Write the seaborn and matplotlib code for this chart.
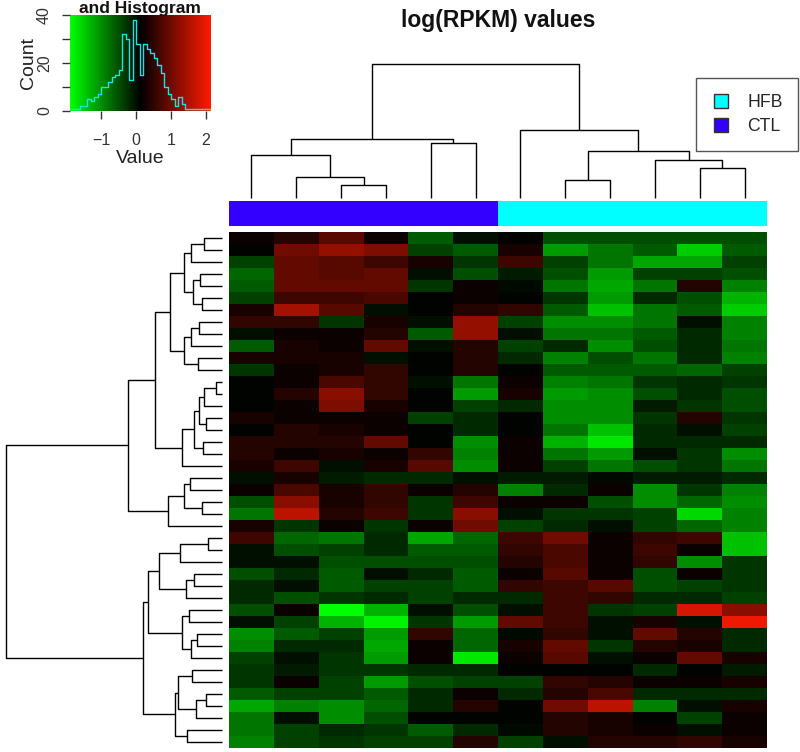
import numpy as np
import pandas as pd
import matplotlib
matplotlib.use("Agg")
import matplotlib.pyplot as plt
from matplotlib.colors import LinearSegmentedColormap, ListedColormap
from matplotlib.lines import Line2D
import seaborn as sns

# ---------------- data ----------------
samples = ["CTL1", "CTL2", "CTL3", "CTL4", "CTL5", "CTL6",
           "HFB1", "HFB2", "HFB3", "HFB4", "HFB5", "HFB6"]
groups = ["CTL", "CTL", "CTL", "CTL", "CTL", "CTL",
          "HFB", "HFB", "HFB", "HFB", "HFB", "HFB"]

ctl1 = [0.2, 0.1, -0.4, -0.7, -0.6, -0.4, 0.3, 0.5, 0.0, -0.6, 0.3, -0.3, 0.1, 0.1, 0.1, 0.3, 0.1, 0.4, 0.4, 0.3, 0.0,
        0.2, -0.5, -0.8, 0.3, 0.6, 0.0, 0.0, -0.5, -0.2, -0.2, -0.5, 0.0, -1.0, -0.9, -0.4, -0.3, -0.3, -0.6, -1.2, -0.8, -0.8, -0.9]
ctl2 = [0.4, 1.0, 0.9, 0.9, 0.9, 0.6, 1.4, 0.5, 0.2, 0.3, 0.3, 0.2, 0.2, 0.4, 0.2, 0.2, 0.4, 0.4, 0.2, 0.6, 0.3,
        0.7, 1.2, 1.6, -0.3, -0.7, -0.5, 0.0, -0.2, 0.0, -0.5, 0.2, -0.4, -0.6, -0.2, 0.0, -0.1, 0.2, -0.4, -0.9, 0.0, -0.4, -0.4]
ctl3 = [0.8, 1.3, 0.8, 0.8, 0.9, 0.6, 0.8, -0.3, 0.2, 0.2, 0.3, 0.3, 0.7, 1.2, 1.1, 0.2, 0.3, 0.4, 0.3, 0.0, -0.1,
        0.3, 0.3, 0.4, 0.2, -0.8, -0.4, -0.5, -0.6, -0.6, -0.3, -1.9, -1.3, -0.4, -0.2, -0.3, -0.3, -0.4, -0.4, -1.0, -1.0, -0.2, -0.3]
ctl4 = [0.2, 1.1, 0.6, 0.9, 0.9, 0.7, 0.0, 0.3, 0.4, 0.9, 0.0, 0.5, 0.5, 0.5, 0.3, 0.2, 0.2, 0.9, 0.2, 0.3, -0.2,
        0.5, 0.5, 0.6, -0.3, -0.2, -0.2, -0.5, 0.0, -0.4, -0.2, -1.3, -1.8, -1.1, -1.2, -1.1, -0.3, -1.1, -0.6, -0.7, -0.5, -0.3, -0.4]
ctl5 = [-0.6, -0.4, 0.3, 0.0, -0.3, 0.1, 0.1, 0.0, -0.6, 0.0, 0.1, 0.1, 0.0, 0.1, 0.1, -0.4, 0.1, 0.1, 0.5, 0.8, -0.2,
        0.2, -0.3, -0.3, 0.2, -1.2, -0.6, -0.5, -0.2, -0.4, -0.4, 0.0, -0.3, 0.5, 0.2, 0.2, -0.2, -0.5, -0.2, -0.2, 0.1, -0.6, -0.4]
ctl6 = [0.0, -0.6, -0.3, -0.5, 0.2, 0.2, 0.4, 1.3, 1.3, 0.4, 0.4, 0.4, -0.8, -1.1, -0.4, -0.2, -0.2, -1.0, -0.9, -1.0, 0.0,
        0.4, 0.6, 1.2, 1.0, -0.7, -0.6, -0.5, -0.6, -0.6, -0.2, -0.5, -1.1, -0.7, -0.7, -1.7, -0.2, -0.4, 0.2, 0.4, 0.1, -0.2, 0.4]
hfb1 = [0.1, 0.3, 0.6, -0.1, 0.05, 0.1, 0.5, -0.4, 0.0, -0.4, -0.2, 0.1, 0.2, 0.3, -0.2, 0.1, 0.1, 0.2, 0.2, 0.2, -0.1,
        -0.9, 0.2, 0.0, -0.4, 0.6, 0.5, 0.4, 0.2, 0.5, -0.2, 0.0, 0.9, 0.05, 0.3, 0.2, 0.1, -0.4, -0.2, 0.1, 0.1, 0.05, -0.4]
hfb2 = [-0.5, -1.1, -0.4, -0.5, -0.8, -0.3, -0.6, -1.0, -0.8, -0.2, -0.9, -0.6, -0.9, -1.1, -1.0, -1.0, -0.8, -1.3, -0.8, -0.4, -0.1,
        -0.2, 0.2, -0.3, -0.2, 1.0, 0.7, 0.7, 0.8, 0.6, 0.6, 0.6, 0.6, 0.5, 0.9, 0.8, 0.1, 0.5, 0.4, 1.0, 0.4, 0.4, 0.0]
hfb3 = [-0.5, -0.8, -0.8, -1.1, -1.2, -1.1, -1.4, -1.0, -0.8, -1.0, -0.5, -0.6, -0.8, -1.0, -1.0, -1.0, -1.4, -1.7, -1.1, -0.8, 0.05,
        0.2, -0.5, -0.3, 0.0, 0.2, 0.2, 0.2, 0.2, 0.8, 0.5, -0.3, 0.0, 0.0, -0.3, 0.0, 0.1, 0.4, 0.7, 1.6, 0.3, 0.3, 0.4]
hfb4 = [-0.5, -0.6, -1.2, -0.4, -0.8, -0.2, -0.8, -0.8, -0.6, -0.5, -0.8, -0.6, -0.3, -0.5, -0.1, -0.3, -0.2, -0.2, 0.0, -0.5, -0.1,
        -1.0, -1.0, -0.4, -0.4, 0.5, 0.6, 0.5, -0.5, -0.5, -0.2, -0.4, 0.3, 0.9, 0.4, 0.2, -0.2, 0.2, -0.2, -0.9, 0.1, 0.2, 0.4]
hfb5 = [-0.5, -1.5, -1.2, -0.4, 0.4, -0.5, -0.6, 0.0, -0.2, -0.2, -0.2, -0.7, -0.2, -0.2, -0.3, 0.4, 0.0, -0.2, -0.3, -0.3, -0.1,
        -0.3, -0.7, -1.6, -0.7, 0.6, 0.2, -1.0, 0.2, -0.4, -0.2, 1.8, 0.0, 0.4, 0.3, 0.9, 0.1, 0.2, -0.2, 0.0, -0.4, 0.0, 0.5]
hfb6 = [-0.5, -0.6, -0.4, -0.5, -0.9, -1.3, -1.5, -0.9, -0.9, -0.8, -0.9, -0.4, -0.3, -0.5, -0.5, -0.3, -0.4, -0.2, -1.0, -0.8, -0.2,
        -0.9, -1.0, -0.9, -0.9, -1.4, -1.4, -0.3, -0.3, -0.3, -0.4, 1.2, 2.0, -0.2, -0.2, 0.3, -0.1, 0.3, -0.2, 0.3, 0.2, 0.2, 0.3]

# histogram of the colour key (counts per 0.1-wide bin starting at -1.9)
hist_counts = [1, 1, 1, 2, 2, 5, 4, 6, 7, 10, 10, 12, 14, 15, 17, 32, 30, 13, 38, 28,
               15, 28, 26, 24, 22, 19, 16, 10, 7, 5, 2, 6, 3, 1, 1, 1, 1, 1, 1, 1]
key_range = (-1.9, 2.14)

# row dendrogram merges: (node, left, right, height); ints are rows in display order
row_merges = [
    ("r01", 0, 1, 17.7), ("r012", "r01", 2, 31.0),
    ("r34", 3, 4, 21.7), ("r56", 5, 6, 20.0), ("r3456", "r34", "r56", 29.0),
    ("r0_6", "r012", "r3456", 37.7),
    ("r78", 7, 8, 22.7), ("r789", "r78", 9, 31.0), ("r1011", 10, 11, 23.7),
    ("r7_11", "r789", "r1011", 37.7), ("r0_11", "r0_6", "r7_11", 51.4),
    ("r1213", 12, 13, 5.7), ("r12_14", "r1213", 14, 17.7), ("r1516", 15, 16, 16.0),
    ("r12_16", "r12_14", "r1516", 22.7), ("r1718", 17, 18, 18.4),
    ("r12_18", "r12_16", "r1718", 27.4), ("r12_19", "r12_18", 19, 40.0),
    ("r0_19", "r0_11", "r12_19", 66.4),
    ("r2021", 20, 21, 31.7), ("r2223", 22, 23, 19.4), ("r20_23", "r2021", "r2223", 37.4),
    ("r20_24", "r20_23", 24, 54.0), ("r0_24", "r0_19", "r20_24", 94.0),
    ("r2526", 25, 26, 13.4), ("r25_27", "r2526", 27, 41.4),
    ("r2829", 28, 29, 27.4), ("r28_30", "r2829", 30, 36.0),
    ("r25_30", "r25_27", "r28_30", 62.4),
    ("r3132", 31, 32, 32.4), ("r3334", 33, 34, 25.0), ("r33_35", "r3334", 35, 31.0),
    ("r31_35", "r3132", "r33_35", 40.0), ("r25_35", "r25_30", "r31_35", 74.0),
    ("r3637", 36, 37, 30.0), ("r3839", 38, 39, 16.0), ("r38_40", "r3839", 40, 26.0),
    ("r36_40", "r3637", "r38_40", 43.4), ("r4142", 41, 42, 35.0),
    ("r36_42", "r36_40", "r4142", 46.4), ("r25_42", "r25_35", "r36_42", 79.0),
    ("root", "r0_24", "r25_42", 216.0),
]
# column dendrogram merges
col_merges = [
    ("c23", 2, 3, 13.0), ("c1_3", 1, "c23", 21.7), ("c0_3", 0, "c1_3", 43.0),
    ("c45", 4, 5, 55.7), ("c0_5", "c0_3", "c45", 59.7),
    ("c78", 7, 8, 18.0), ("c1011", 10, 11, 30.7), ("c9_11", 9, "c1011", 38.0),
    ("c7_11", "c78", "c9_11", 47.0), ("c6_11", 6, "c7_11", 68.3),
    ("root", "c0_5", "c6_11", 134.0),
]

# ---------------- styling ----------------
sns.set_style("white")
plt.rcParams["font.family"] = ["Liberation Sans", "DejaVu Sans"]

green_black_red = LinearSegmentedColormap.from_list("gbr", ["#00FF00", "#000000", "#FF1A00"])
group_colors = {"CTL": "#3300FF", "HFB": "#00FFFF"}

W, H = 800, 752
fig = plt.figure(figsize=(W / 100, H / 100), dpi=100)


def px_axes(x0, y0, x1, y1):
    return fig.add_axes([x0 / W, 1 - y1 / H, (x1 - x0) / W, (y1 - y0) / H])


# ---------------- heatmap ----------------
df = pd.DataFrame({"CTL1": ctl1, "CTL2": ctl2, "CTL3": ctl3, "CTL4": ctl4, "CTL5": ctl5, "CTL6": ctl6,
                   "HFB1": hfb1, "HFB2": hfb2, "HFB3": hfb3, "HFB4": hfb4, "HFB5": hfb5, "HFB6": hfb6})
ax_hm = px_axes(229, 232, 767, 748)
sns.heatmap(df, ax=ax_hm, cmap=green_black_red, vmin=key_range[0], vmax=key_range[1],
            cbar=False, xticklabels=False, yticklabels=False, linewidths=0)

# ---------------- column side colours ----------------
ax_cb = px_axes(229, 201, 767, 226)
codes = pd.DataFrame([[0 if g == "CTL" else 1 for g in groups]], columns=samples)
sns.heatmap(codes, ax=ax_cb, cmap=ListedColormap([group_colors["CTL"], group_colors["HFB"]]),
            vmin=-0.5, vmax=1.5, cbar=False, xticklabels=False, yticklabels=False, linewidths=0)


# ---------------- dendrograms ----------------
def dendro_segments(merges):
    pos, hgt, segs = {}, {}, []

    def get(n):
        if isinstance(n, int):
            return n + 0.5, 0.0
        return pos[n], hgt[n]

    for name, a, b, h in merges:
        pa, ha = get(a)
        pb, hb = get(b)
        segs.append(([pa, pa, pb, pb], [ha, h, h, hb]))
        pos[name] = (pa + pb) / 2
        hgt[name] = h
    return segs


ax_cd = px_axes(229, 64.3, 767, 198.3)
for p, h in dendro_segments(col_merges):
    ax_cd.plot(p, h, color="black", lw=1.0, clip_on=False, solid_capstyle="butt")
ax_cd.set_xlim(0, len(samples))
ax_cd.set_ylim(0, 134.0)
ax_cd.axis("off")

ax_rd = px_axes(5.7, 232, 221.7, 748)
for p, h in dendro_segments(row_merges):
    ax_rd.plot(h, p, color="black", lw=1.0, clip_on=False, solid_capstyle="butt")
ax_rd.set_xlim(216.0, 0)
ax_rd.set_ylim(len(ctl1), 0)
ax_rd.axis("off")

# ---------------- colour key + histogram ----------------
ax_key = px_axes(70, 15, 211, 111)
lo, hi = key_range
grad = np.linspace(lo, hi, 256)[None, :]
ax_key.imshow(grad, extent=[lo, hi, 0, 40], aspect="auto", cmap=green_black_red,
              vmin=lo, vmax=hi, origin="lower", zorder=0)
edges = np.round(-1.9 + 0.1 * np.arange(len(hist_counts) + 1), 2)
hist_df = pd.DataFrame({"value": (edges[:-1] + edges[1:]) / 2, "count": hist_counts})
sns.histplot(data=hist_df, x="value", weights="count", bins=list(edges), element="step",
             fill=False, color="#20E0E8", lw=1.0, ax=ax_key, zorder=2)
ax_key.set_xlim(lo, hi)
ax_key.set_ylim(0, 40)
ax_key.set_xticks([-1, 0, 1, 2])
ax_key.set_xticklabels(["\u22121", "0", "1", "2"])
ax_key.set_yticks([0, 10, 20, 30, 40])
ax_key.set_yticklabels(["0", "", "20", "", "40"], rotation=90, va="center")
ax_key.tick_params(axis="both", direction="out", length=6, width=1, color="#333333",
                   labelsize=11.5, labelcolor="#333333", bottom=True, left=True)
ax_key.tick_params(axis="x", pad=10)
ax_key.tick_params(axis="y", pad=7)
for s in ax_key.spines.values():
    s.set_visible(False)
ax_key.set_xlabel("Value", fontsize=14, color="#222222", labelpad=1)
ax_key.set_ylabel("Count", fontsize=14, color="#222222", labelpad=0)

fig.text(140 / W, 1 - 13 / H, "and Histogram", ha="center", va="baseline",
         fontsize=12.5, fontweight="bold", color="#111111")

# ---------------- title ----------------
fig.text(498 / W, 1 - 20 / H, "log(RPKM) values", ha="center", va="center",
         fontsize=16.5, fontweight="bold", color="#111111")

# ---------------- legend ----------------
handles = [Line2D([0], [0], marker="s", linestyle="none", markersize=10.5,
                  markerfacecolor=group_colors[g], markeredgecolor="#333333", label=g)
           for g in ["HFB", "CTL"]]
fig.legend(handles=handles, loc="upper left", bbox_to_anchor=(696 / W, 1 - 78 / H),
           borderaxespad=0, frameon=True, fancybox=False, edgecolor="#555555",
           fontsize=12.7, handletextpad=1.0, borderpad=0.9, labelspacing=0.42,
           handlelength=1.0, framealpha=1)

fig.savefig("out.png", dpi=100)
